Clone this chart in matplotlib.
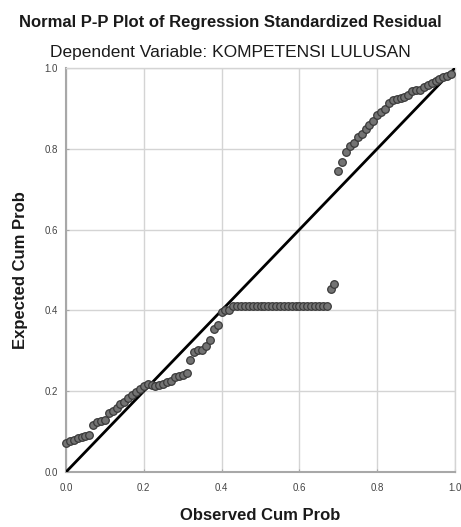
import matplotlib
matplotlib.use("Agg")
import matplotlib.pyplot as plt

plt.rcParams['font.family'] = ['Liberation Sans', 'DejaVu Sans']

title = "Normal P-P Plot of Regression Standardized Residual"
subtitle = "Dependent Variable: KOMPETENSI LULUSAN"
xlabel = "Observed Cum Prob"
ylabel = "Expected Cum Prob"
tick_values = [0.0, 0.2, 0.4, 0.6, 0.8, 1.0]
tick_labels = ["0.0", "0.2", "0.4", "0.6", "0.8", "1.0"]

observed = [
    0.00, 0.01, 0.02, 0.03, 0.04, 0.05, 0.06, 0.07, 0.08, 0.09,
    0.10, 0.11, 0.12, 0.13, 0.14, 0.15, 0.16, 0.17, 0.18, 0.19,
    0.20, 0.21, 0.22, 0.23, 0.24, 0.25, 0.26, 0.27, 0.28, 0.29,
    0.30, 0.31, 0.32, 0.33, 0.34, 0.35, 0.36, 0.37, 0.38, 0.39,
    0.40, 0.41, 0.42, 0.43, 0.44, 0.45, 0.46, 0.47, 0.48, 0.49,
    0.50, 0.51, 0.52, 0.53, 0.54, 0.55, 0.56, 0.57, 0.58, 0.59,
    0.60, 0.61, 0.62, 0.63, 0.64, 0.65, 0.66, 0.67, 0.68, 0.69,
    0.70, 0.71, 0.72, 0.73, 0.74, 0.75, 0.76, 0.77, 0.78, 0.79,
    0.80, 0.81, 0.82, 0.83, 0.84, 0.85, 0.86, 0.87, 0.88, 0.89,
    0.90, 0.91, 0.92, 0.93, 0.94, 0.95, 0.96, 0.97, 0.98, 0.99,
]
expected = [
    0.073, 0.077, 0.079, 0.083, 0.087, 0.090, 0.091, 0.117, 0.124, 0.126,
    0.128, 0.145, 0.150, 0.158, 0.168, 0.174, 0.184, 0.191, 0.197, 0.205,
    0.212, 0.217, 0.216, 0.214, 0.216, 0.219, 0.222, 0.225, 0.234, 0.238,
    0.241, 0.245, 0.277, 0.297, 0.301, 0.302, 0.313, 0.327, 0.354, 0.365,
    0.396, 0.401, 0.402, 0.411, 0.411, 0.411, 0.411, 0.411, 0.411, 0.411,
    0.411, 0.411, 0.411, 0.411, 0.411, 0.411, 0.411, 0.411, 0.411, 0.411,
    0.411, 0.411, 0.411, 0.411, 0.411, 0.411, 0.411, 0.411, 0.452, 0.465,
    0.746, 0.767, 0.793, 0.806, 0.815, 0.828, 0.836, 0.848, 0.858, 0.869,
    0.883, 0.891, 0.898, 0.914, 0.921, 0.924, 0.925, 0.927, 0.933, 0.944,
    0.946, 0.945, 0.952, 0.958, 0.962, 0.968, 0.973, 0.977, 0.980, 0.984,
]

fig = plt.figure(figsize=(4.61, 5.27), dpi=100)
ax = fig.add_axes([66 / 461, 55 / 527, 389 / 461, 404 / 527])

ax.set_xlim(0, 1)
ax.set_ylim(0, 1)
ax.set_xticks(tick_values)
ax.set_xticklabels(tick_labels)
ax.set_yticks(tick_values)
ax.set_yticklabels(tick_labels)
ax.grid(True, color='#d4d4d4', linewidth=1.0)
ax.set_axisbelow(True)
ax.tick_params(length=2, width=0.8, direction='in', color='#a8a8a8',
               labelsize=7, labelcolor='#444444')
ax.tick_params(axis='x', pad=8)
ax.tick_params(axis='y', pad=6)

for side in ['left', 'bottom']:
    ax.spines[side].set_color('#a8a8a8')
    ax.spines[side].set_linewidth(1.5)
for side in ['top', 'right']:
    ax.spines[side].set_color('#d4d4d4')
    ax.spines[side].set_linewidth(1.0)

ax.plot([0, 1], [0, 1], color='black', linewidth=2.0, zorder=3)
ax.scatter(observed, expected, s=30, facecolor='#737373', edgecolor='#3a3a3a',
           linewidth=0.9, zorder=4, clip_on=False)

fig.text(0.5, 1 - 22 / 527, title, ha='center', va='center', fontsize=12,
         fontweight='bold', color='#1a1a1a')
fig.text(0.5, 1 - 52 / 527, subtitle, ha='center', va='center', fontsize=12.5,
         color='#1a1a1a')
fig.text((66 + 455) / 2 / 461, 1 - 516 / 527, xlabel, ha='center', va='center',
         fontsize=12, fontweight='bold', color='#1a1a1a')
fig.text(21 / 461, 1 - 270 / 527, ylabel, ha='center', va='center', rotation=90,
         fontsize=12, fontweight='bold', color='#1a1a1a')

fig.savefig('out.png', dpi=100)
